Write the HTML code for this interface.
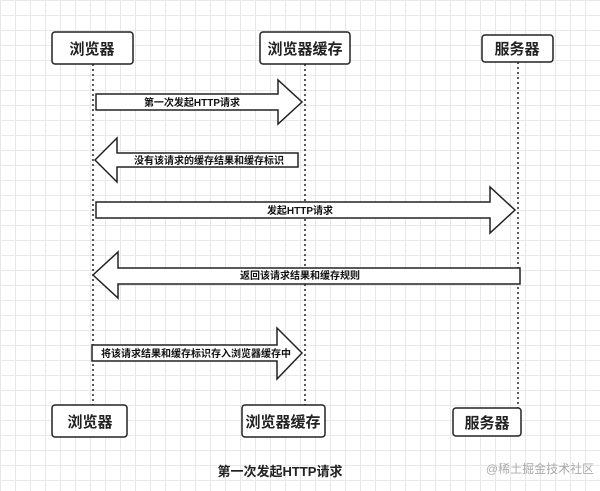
<!DOCTYPE html>
<html><head><meta charset="utf-8"><style>
body{margin:0;width:600px;height:491px;overflow:hidden;background:#fff;
background-image:linear-gradient(#e8e8e8 1px,transparent 1px),linear-gradient(90deg,#e8e8e8 1px,transparent 1px);background-size:15px 15px;}
</style></head><body>
<svg width="600" height="491" style="position:absolute;left:0;top:0" font-family="Liberation Sans, Noto Sans CJK SC, sans-serif">
<g stroke="#222" stroke-width="1.5" stroke-dasharray="2,3">
<line x1="93" y1="64" x2="93" y2="405"/>
<line x1="305" y1="64" x2="305" y2="405"/>
<line x1="518" y1="62" x2="518" y2="408"/>
</g>
<g fill="#fff" stroke="#222" stroke-width="1.5">
<rect x="52" y="32" width="81" height="32" rx="3"/>
<rect x="260" y="32" width="90" height="32" rx="3"/>
<rect x="482" y="35" width="71" height="27" rx="3"/>
<rect x="52" y="405" width="75" height="32" rx="3"/>
<rect x="242" y="405" width="83" height="32" rx="3"/>
<rect x="453" y="408" width="68" height="28" rx="3"/>
<polygon points="96,94 278,94 278,80 302,102 278,124 278,110 96,110"/>
<polygon points="298,153 117,153 117,138 95,160 117,182 117,167 298,167"/>
<polygon points="96,202 490,202 490,187 515,210 490,233 490,218 96,218"/>
<polygon points="520,268 118,268 118,252 93,275 118,298 118,284 520,284"/>
<polygon points="92,345 277,345 277,328 302,353 277,379 277,361 92,361"/>
</g>
<g font-size="15" fill="#222" text-anchor="middle" font-weight="bold">
<text x="92" y="54">浏览器</text>
<text x="305" y="54">浏览器缓存</text>
<text x="517" y="54">服务器</text>
<text x="90" y="427">浏览器</text>
<text x="283" y="427">浏览器缓存</text>
<text x="487" y="428">服务器</text>
</g>
<g font-size="10" fill="#111" text-anchor="middle" font-weight="bold">
<text x="192" y="106">第一次发起HTTP请求</text>
<text x="209" y="164">没有该请求的缓存结果和缓存标识</text>
<text x="300" y="214">发起HTTP请求</text>
<text x="300" y="279">返回该请求结果和缓存规则</text>
<text x="196" y="357">将该请求结果和缓存标识存入浏览器缓存中</text>
</g>
<text x="280" y="476" font-size="13" fill="#222" text-anchor="middle" font-weight="bold">第一次发起HTTP请求</text>
<text x="540" y="473" font-size="12" fill="#aaa" text-anchor="middle">@稀土掘金技术社区</text>
</svg>
</body></html>
